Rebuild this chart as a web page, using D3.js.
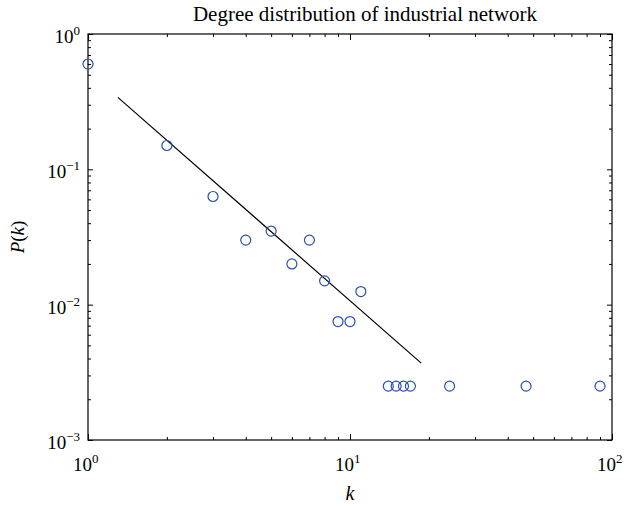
<!DOCTYPE html>
<html>
<head>
<meta charset="utf-8">
<script src="https://cdn.jsdelivr.net/npm/d3@7"></script>
<style>
  html, body { margin: 0; padding: 0; background: #fff; overflow: hidden; }
  svg { display: block; }
  text { font-family: "Liberation Serif", "DejaVu Serif", serif; fill: #000; }
</style>
</head>
<body>
<div id="chart"></div>
<script>
// degree k and probability P(k)
var degrees = [1, 2, 3, 4, 5, 6, 7, 8, 9, 10, 11, 14, 15, 16, 17, 24, 47, 90]
var probs = [0.6, 0.15, 0.063, 0.030, 0.035, 0.020, 0.030, 0.015, 0.0075, 0.0075, 0.0125,
             0.0025, 0.0025, 0.0025, 0.0025, 0.0025, 0.0025, 0.0025]
// fitted power-law line end points
var fitK = [1.3, 18.7]
var fitP = [0.34, 0.0037]
var xTickVals = [1, 10, 100]
var yTickVals = [1e-3, 1e-2, 1e-1, 1]

var width = 627, height = 506
var margin = {top: 34, right: 15, bottom: 66, left: 88}
var innerWidth = width - margin.left - margin.right
var innerHeight = height - margin.top - margin.bottom

var svg = d3.select('#chart').append('svg').attr('width', width).attr('height', height)
var g = svg.append('g').attr('transform', `translate(${margin.left}, ${margin.top})`)

var x = d3.scaleLog().domain([1, 100]).range([0, innerWidth])
var y = d3.scaleLog().domain([1e-3, 1]).range([innerHeight, 0])

// minor ticks 2..9 in each decade
var minorX = [], minorY = []
for (var d = 1; d < 100; d *= 10) for (var m = 2; m < 10; m++) minorX.push(d * m)
for (var e = 1e-3; e < 0.9; e *= 10) for (var m2 = 2; m2 < 10; m2++) minorY.push(e * m2)

function tickAxis(axisFn, scale, vals, size) {
    return axisFn(scale).tickValues(vals).tickSize(size).tickFormat('')
}
// bottom / top
g.append('g').attr('transform', `translate(0, ${innerHeight})`)
    .call(tickAxis(d3.axisTop, x, xTickVals, 6))
g.append('g').attr('transform', `translate(0, ${innerHeight})`)
    .call(tickAxis(d3.axisTop, x, minorX, 3))
g.append('g').call(tickAxis(d3.axisBottom, x, xTickVals, 6))
g.append('g').call(tickAxis(d3.axisBottom, x, minorX, 3))
// left / right
g.append('g').call(tickAxis(d3.axisRight, y, yTickVals, 5))
g.append('g').call(tickAxis(d3.axisRight, y, minorY, 3))
g.append('g').attr('transform', `translate(${innerWidth}, 0)`)
    .call(tickAxis(d3.axisLeft, y, yTickVals, 5))
g.append('g').attr('transform', `translate(${innerWidth}, 0)`)
    .call(tickAxis(d3.axisLeft, y, minorY, 3))
g.selectAll('.domain').remove()
g.selectAll('.tick text').remove()
g.selectAll('.tick line').attr('stroke', '#000').attr('stroke-width', 1)

g.append('rect')
    .attr('width', innerWidth).attr('height', innerHeight)
    .attr('fill', 'none').attr('stroke', '#000').attr('stroke-width', 1.2)

// tick labels: base "10" plus a separate superscript exponent
function expText(v) {
    var exp = Math.round(Math.log10(v))
    return exp < 0 ? '\u2212' + (-exp) : String(exp)
}
xTickVals.forEach(function(v) {
    var bx = x(v) + 4, by = innerHeight + 31
    g.append('text').attr('x', bx).attr('y', by)
        .attr('text-anchor', 'end').style('font-size', '19px').text('10')
    g.append('text').attr('x', bx).attr('y', by - 8)
        .style('font-size', '13px').text(expText(v))
})
yTickVals.forEach(function(v) {
    var by = y(v) + 9
    var sup = g.append('text').attr('x', -8).attr('y', by - 8)
        .attr('text-anchor', 'end').style('font-size', '13px').text(expText(v))
    var w = sup.node().getComputedTextLength()
    g.append('text').attr('x', -8 - w).attr('y', by)
        .attr('text-anchor', 'end').style('font-size', '19px').text('10')
})

// fit line
var fit = fitK.map(function(k, i) { return {k: k, p: fitP[i]} })
g.append('path')
    .datum(fit)
    .attr('d', d3.line().x(function(d) { return x(d.k) }).y(function(d) { return y(d.p) }))
    .attr('fill', 'none').attr('stroke', '#000').attr('stroke-width', 1.2)

// data points
var pts = degrees.map(function(k, i) { return {k: k, p: probs[i]} })
g.selectAll('circle.pt')
    .data(pts)
    .join('circle')
    .attr('class', 'pt')
    .attr('cx', function(d) { return x(d.k) })
    .attr('cy', function(d) { return y(d.p) })
    .attr('r', 5)
    .attr('fill', 'none')
    .attr('stroke', '#2a4fb0')
    .attr('stroke-width', 1.2)

// title
svg.append('text')
    .attr('x', 365).attr('y', 21)
    .attr('text-anchor', 'middle')
    .style('font-size', '21px')
    .text('Degree distribution of industrial network')

// axis labels
svg.append('text')
    .attr('x', margin.left + innerWidth / 2).attr('y', 500)
    .attr('text-anchor', 'middle')
    .style('font-size', '20px').style('font-style', 'italic')
    .text('k')
var yl = svg.append('text')
    .attr('transform', `translate(24, ${margin.top + innerHeight / 2}) rotate(-90)`)
    .attr('text-anchor', 'middle')
    .style('font-size', '19px')
yl.append('tspan').style('font-style', 'italic').text('P')
yl.append('tspan').text('(')
yl.append('tspan').style('font-style', 'italic').text('k')
yl.append('tspan').text(')')
</script>
</body>
</html>
